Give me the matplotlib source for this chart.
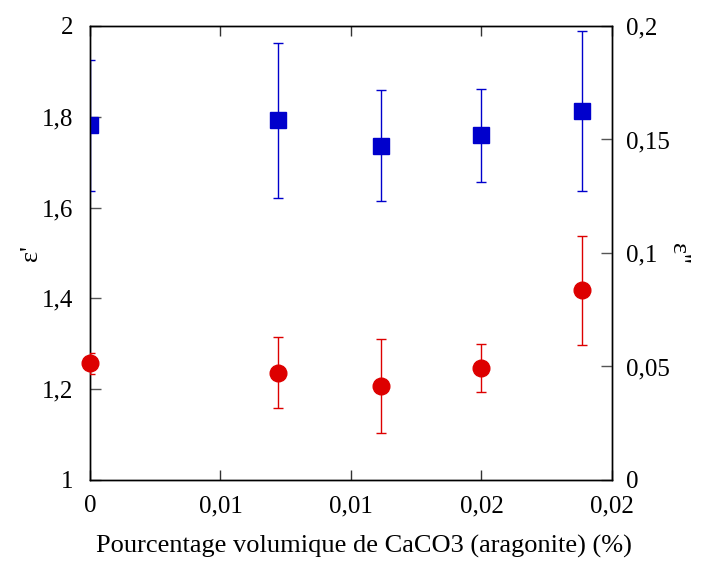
import matplotlib.pyplot as plt

plt.rcParams['font.family'] = ['Liberation Serif', 'DejaVu Serif']

# volume fraction of CaCO3 (aragonite)
x_vals = [0.0, 0.0072, 0.01115, 0.0150, 0.01885]

# eps' (left axis)
eps1 = [1.781, 1.792, 1.736, 1.759, 1.813]
eps1_err = [0.145, 0.170, 0.122, 0.102, 0.177]

# eps'' (right axis)
eps2 = [0.0514, 0.0473, 0.0414, 0.0493, 0.0836]
eps2_err = [0.0046, 0.0158, 0.0208, 0.0105, 0.0240]

x_ticks = [0, 0.005, 0.01, 0.015, 0.02]
x_ticklabels = ['0', '0,01', '0,01', '0,02', '0,02']
left_ticks = [1, 1.2, 1.4, 1.6, 1.8, 2]
left_ticklabels = ['1', '1,2', '1,4', '1,6', '1,8', '2']
right_ticks = [0, 0.05, 0.1, 0.15, 0.2]
right_ticklabels = ['0', '0,05', '0,1', '0,15', '0,2']

fig = plt.figure(figsize=(7.07, 5.61), dpi=100)
ax = fig.add_axes([0.1273, 0.1444, 0.7383, 0.8093])
ax2 = ax.twinx()

ax.errorbar(x_vals, eps1, yerr=eps1_err, fmt='s', color='#0000cc', ms=12,
            elinewidth=1.0, capsize=3.5, capthick=1.0, zorder=3)
eb = ax2.errorbar(x_vals, eps2, yerr=eps2_err, fmt='o', color='#dd0000', ms=12,
                  elinewidth=1.0, capsize=3.5, capthick=1.0, zorder=3)
# red markers at x=0 are drawn across the spine in the original
eb.lines[0].set_clip_on(False)

ax.set_xlim(0, 0.02)
ax.set_ylim(1, 2)
ax2.set_ylim(0, 0.2)

ax.set_xticks(x_ticks)
ax.set_xticklabels(x_ticklabels)
ax.set_yticks(left_ticks)
ax.set_yticklabels(left_ticklabels)
ax2.set_yticks(right_ticks)
ax2.set_yticklabels(right_ticklabels)

ax.tick_params(axis='x', direction='in', top=True, length=7, width=1,
               color='#333333', labelsize=18, pad=11)
ax.tick_params(axis='y', direction='in', length=8, width=1,
               color='#555555', labelsize=18, pad=12)
ax2.tick_params(axis='y', direction='in', length=8, width=1,
                color='#555555', labelsize=18, pad=10)

for a in (ax, ax2):
    for s in a.spines.values():
        s.set_linewidth(1.0)

ax.set_xlabel('Pourcentage volumique de CaCO3 (aragonite) (%)', fontsize=19, labelpad=13)
ax.xaxis.label.set_x(0.525)
ax.set_ylabel("ε'", fontsize=19, labelpad=0)
ax2.set_ylabel("ε''", fontsize=19, rotation=-90, labelpad=14)

fig.savefig('out.png', dpi=100)
